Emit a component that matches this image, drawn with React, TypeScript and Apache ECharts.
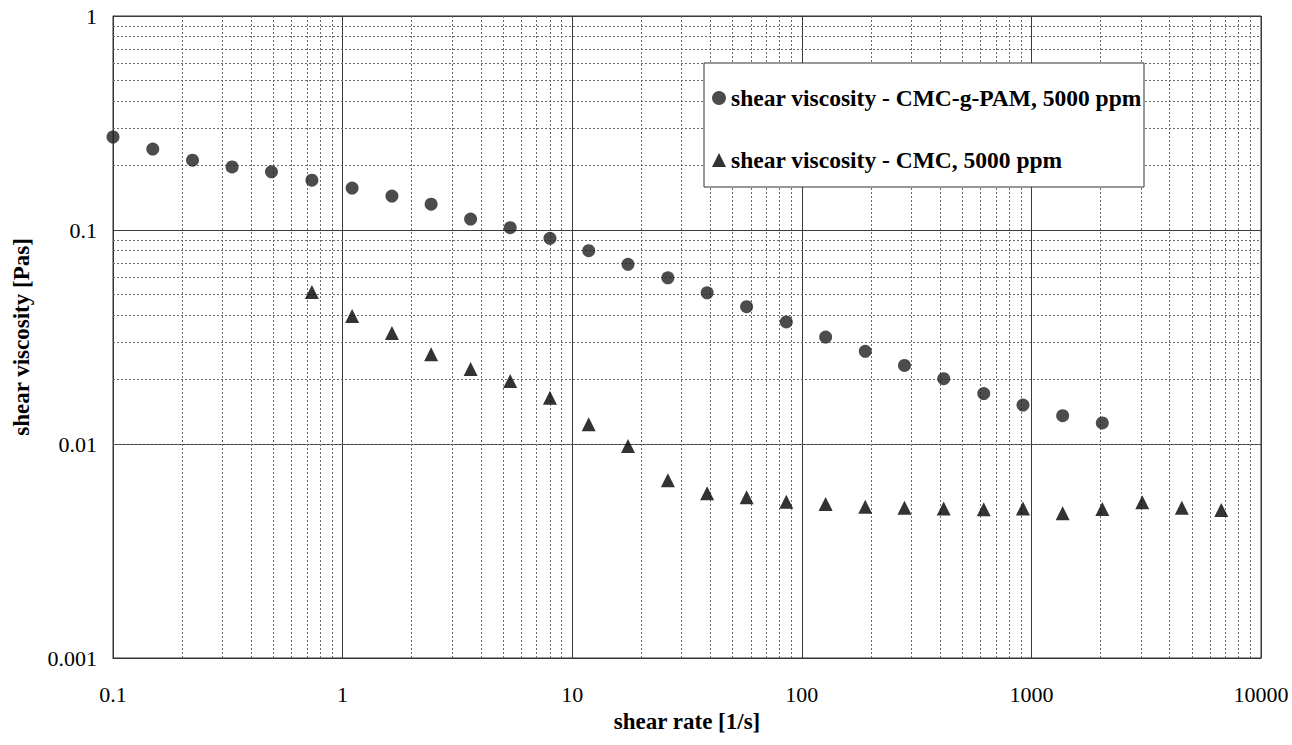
import React, { useEffect, useRef } from "react";
import * as echarts from "echarts";

// shear rate [1/s] and shear viscosity [Pas]
const shearRateCmcgPam = [
  0.1, 0.149, 0.222, 0.33, 0.49, 0.735, 1.1, 1.64, 2.43, 3.61, 5.37, 8.0, 11.8,
  17.5, 26.1, 38.7, 57.5, 85.6, 127, 189, 280, 415, 620, 919, 1368, 2036,
];
const viscCmcgPam = [
  0.272, 0.239, 0.212, 0.197, 0.187, 0.171, 0.157, 0.144, 0.132, 0.1125, 0.1025,
  0.0915, 0.08, 0.0691, 0.0598, 0.0509, 0.0438, 0.0372, 0.0316, 0.0271, 0.0233,
  0.0202, 0.0172, 0.0152, 0.01356, 0.01254,
];
const shearRateCmc = [
  0.735, 1.1, 1.64, 2.43, 3.61, 5.37, 8.0, 11.8, 17.5, 26.1, 38.7, 57.5, 85.6, 127,
  189, 280, 415, 620, 919, 1368, 2036, 3040, 4520, 6714,
];
const viscCmc = [
  0.0513, 0.0396, 0.033, 0.0263, 0.0224, 0.0197, 0.01645, 0.01236, 0.00979,
  0.00677, 0.00588, 0.00564, 0.00537, 0.00525, 0.00509, 0.00504, 0.00499,
  0.00495, 0.005, 0.00475, 0.00497, 0.00534, 0.00504, 0.00492,
];

const seriesNames = [
  "shear viscosity - CMC-g-PAM, 5000 ppm",
  "shear viscosity - CMC, 5000 ppm",
];
const xAxisTitle = "shear rate [1/s]";
const yAxisTitle = "shear viscosity [Pas]";

// minor grid lines: 2..9 within each decade
const xDecades = [0.1, 1, 10, 100, 1000];
const yDecades = [0.001, 0.01, 0.1];
const minorSteps = [2, 3, 4, 5, 6, 7, 8, 9];

const clean = (v: number) => Number(v.toPrecision(6));
const xMinor = xDecades.flatMap((d) => minorSteps.map((k) => clean(d * k)));
const yMinor = yDecades.flatMap((d) => minorSteps.map((k) => clean(d * k)));

const FONT = "'Liberation Serif', 'Times New Roman', serif";

export default function App() {
  const ref = useRef<HTMLDivElement>(null);

  useEffect(() => {
    if (!ref.current) return;
    const chart = echarts.init(ref.current, undefined, { renderer: "svg" });
    const labelFmt = (v: number) => String(Number(v.toPrecision(3)));
    chart.setOption({
      animation: false,
      backgroundColor: "#ffffff",
      grid: {
        left: 113,
        right: 31,
        top: 16,
        bottom: 87,
        show: true,
        borderColor: "#333",
        borderWidth: 1,
        backgroundColor: "transparent",
      },
      xAxis: {
        type: "log",
        logBase: 10,
        min: 0.1,
        max: 10000,
        name: xAxisTitle,
        nameLocation: "middle",
        nameGap: 50,
        nameTextStyle: {
          fontFamily: FONT,
          fontWeight: "bold",
          fontSize: 23,
          color: "#000",
        },
        axisLine: { show: true, lineStyle: { color: "#333", width: 1 } },
        axisTick: { show: false },
        axisLabel: {
          formatter: labelFmt,
          fontFamily: FONT,
          fontSize: 22,
          color: "#000",
          margin: 25,
        },
        splitLine: { show: true, lineStyle: { color: "#3a3a3a", width: 1 } },
      },
      yAxis: {
        type: "log",
        logBase: 10,
        min: 0.001,
        max: 1,
        name: yAxisTitle,
        nameLocation: "middle",
        nameGap: 80,
        nameTextStyle: {
          fontFamily: FONT,
          fontWeight: "bold",
          fontSize: 23,
          color: "#000",
        },
        axisLine: { show: true, lineStyle: { color: "#333", width: 1 } },
        axisTick: { show: false },
        axisLabel: {
          formatter: labelFmt,
          fontFamily: FONT,
          fontSize: 22,
          color: "#000",
          margin: 16,
        },
        splitLine: { show: true, lineStyle: { color: "#3a3a3a", width: 1 } },
      },
      legend: {
        data: [
          { name: seriesNames[0], icon: "circle" },
          { name: seriesNames[1], icon: "triangle" },
        ],
        orient: "vertical",
        left: 712,
        top: 86,
        padding: 0,
        itemWidth: 14,
        itemHeight: 14,
        itemGap: 38,
        z: 10,
        selectedMode: false,
        textStyle: {
          fontFamily: FONT,
          fontWeight: "bold",
          fontSize: 23.5,
          lineHeight: 22,
          color: "#000",
        },
      },
      graphic: [
        {
          type: "rect",
          z: 3,
          shape: { x: 704, y: 63, width: 440, height: 124 },
          style: { fill: "#ffffff", stroke: "#333", lineWidth: 1 },
        },
      ],
      series: [
        {
          name: "minor grid",
          type: "line",
          data: [],
          silent: true,
          z: 1,
          markLine: {
            z: 1,
            silent: true,
            symbol: "none",
            animation: false,
            label: { show: false },
            emphasis: { disabled: true },
            lineStyle: { color: "#6a6a6a", width: 1, type: [2, 2] },
            data: [
              ...xMinor.map((v) => ({ xAxis: v })),
              ...yMinor.map((v) => ({ yAxis: v })),
            ],
          },
        },
        {
          name: seriesNames[0],
          type: "scatter",
          symbol: "circle",
          symbolSize: 13,
          z: 5,
          itemStyle: { color: "#1f1f1f" },
          data: shearRateCmcgPam.map((x, i) => [x, viscCmcgPam[i]]),
        },
        {
          name: seriesNames[1],
          type: "scatter",
          symbol: "triangle",
          symbolSize: 14,
          z: 5,
          itemStyle: { color: "#000000" },
          data: shearRateCmc.map((x, i) => [x, viscCmc[i]]),
        },
      ],
    });
    return () => chart.dispose();
  }, []);

  return (
    <div
      ref={ref}
      style={{ position: "fixed", left: 0, top: 0, width: 1292, height: 745 }}
    />
  );
}
